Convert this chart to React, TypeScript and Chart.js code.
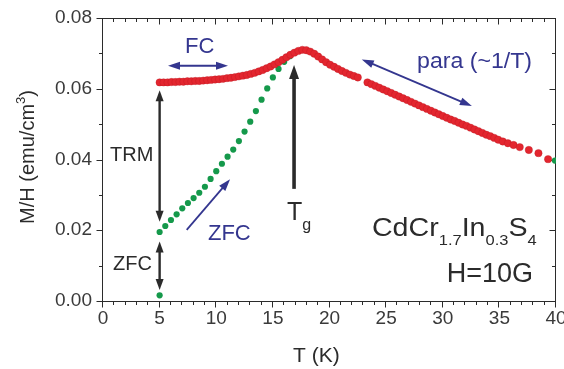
import { useEffect, useRef } from 'react';
import { Chart, registerables } from 'chart.js';

Chart.register(...registerables);

// Field-cooled M/H (red), including the paramagnetic tail above Tg
const fcTemp = [
  5.0, 5.35, 5.7, 6.05, 6.4, 6.75, 7.1, 7.45, 7.8, 8.15, 8.5, 8.85, 9.2, 9.55, 9.9,
  10.25, 10.6, 10.95, 11.3, 11.65, 12.0, 12.35, 12.7, 13.05, 13.4, 13.75, 14.1, 14.45,
  14.8, 15.15, 15.5, 15.85, 16.2, 16.55, 16.9, 17.25, 17.6, 17.95, 18.3, 18.65, 19.0,
  19.35, 19.7, 20.05, 20.4, 20.75, 21.1, 21.45, 21.8, 22.15, 22.5,
  23.35, 23.7, 24.05, 24.4, 24.75, 25.1, 25.45, 25.8, 26.15, 26.5, 26.85, 27.2, 27.55,
  27.9, 28.25, 28.6, 28.95, 29.3, 29.65, 30.0, 30.35, 30.7, 31.05, 31.4, 31.75, 32.1,
  32.45, 32.8, 33.15, 33.5, 33.85, 34.2, 34.55, 34.9, 35.3, 35.75, 36.25, 36.8, 37.6,
  38.45, 39.3,
];
const fcMH = [
  0.0618, 0.0618, 0.0618, 0.0619, 0.0619, 0.062, 0.062, 0.0621, 0.0621, 0.0622, 0.0622,
  0.0623, 0.0624, 0.0625, 0.0626, 0.0627, 0.0628, 0.063, 0.0631, 0.0633, 0.0635, 0.0637,
  0.0639, 0.0642, 0.0645, 0.0649, 0.0653, 0.0658, 0.0663, 0.0669, 0.0675, 0.0682, 0.0689,
  0.0696, 0.0702, 0.0707, 0.071, 0.0709, 0.0705, 0.0699, 0.0691, 0.0683, 0.0675, 0.0668,
  0.0662, 0.0656, 0.065, 0.0645, 0.064, 0.0636, 0.0632,
  0.0618, 0.0613, 0.0608, 0.0603, 0.0598, 0.0593, 0.0588, 0.0583, 0.0578, 0.0573, 0.0568,
  0.0563, 0.0558, 0.0553, 0.0548, 0.0543, 0.0538, 0.0533, 0.0528, 0.0523, 0.0518, 0.0513,
  0.0509, 0.0504, 0.0499, 0.0495, 0.049, 0.0485, 0.048, 0.0475, 0.047, 0.0466, 0.0461,
  0.0456, 0.0451, 0.0446, 0.0441, 0.0435, 0.0427, 0.0418, 0.0401,
];

// Zero-field-cooled M/H (green)
const zfcTemp = [
  5.0, 5.0, 5.5, 6.0, 6.5, 7.0, 7.5, 8.0, 8.5, 9.0, 9.5, 10.0, 10.5, 11.0, 11.5, 12.0,
  12.5, 13.0, 13.5, 14.0, 14.5, 15.0, 15.5, 16.0, 16.5, 39.9,
];
const zfcMH = [
  0.0016, 0.0195, 0.0212, 0.0229, 0.0245, 0.0262, 0.0277, 0.0291, 0.0306, 0.0323, 0.0345,
  0.0367, 0.0388, 0.0408, 0.0428, 0.0452, 0.0479, 0.0507, 0.0537, 0.0569, 0.0601, 0.0632,
  0.0656, 0.0676, 0.0692, 0.0397,
];

const xRange = [0, 40];
const yRange = [0, 0.08];
const xMajorStep = 5;
const xMinorStep = 1;
const yMajorStep = 0.02;
const yMinorStep = 0.01;

const FONT = "'Liberation Sans', Arial, Helvetica, sans-serif";
const INK = '#2b2b2b';
const LABEL = '#3a3a3a';
const BLUE = '#34368f';
const RED = '#e3262f';
const RED_EDGE = 'rgba(185,20,30,0.55)';
const GREEN = '#15994b';

type Run = { t: string; size: number; dy?: number };

// Draws a row of text pieces (with sub/superscripts); sx stretches horizontally.
function drawRuns(
  ctx: CanvasRenderingContext2D, runs: Run[], x: number, y: number, color: string,
  align: 'left' | 'right' = 'left', sx = 1,
) {
  ctx.save();
  ctx.fillStyle = color;
  ctx.textBaseline = 'alphabetic';
  ctx.textAlign = 'left';
  let total = 0;
  const widths = runs.map((r) => {
    ctx.font = `${r.size}px ${FONT}`;
    const w = ctx.measureText(r.t).width * sx;
    total += w;
    return w;
  });
  let cx = align === 'right' ? x - total : x;
  runs.forEach((r, i) => {
    ctx.font = `${r.size}px ${FONT}`;
    ctx.save();
    ctx.translate(cx, y + (r.dy || 0));
    ctx.scale(sx, 1);
    ctx.fillText(r.t, 0, 0);
    ctx.restore();
    cx += widths[i];
  });
  ctx.restore();
}

function head(ctx: CanvasRenderingContext2D, x: number, y: number, ang: number, len: number, wid: number) {
  ctx.save();
  ctx.translate(x, y);
  ctx.rotate(ang);
  ctx.beginPath();
  ctx.moveTo(0, 0);
  ctx.lineTo(-len, wid / 2);
  ctx.lineTo(-len, -wid / 2);
  ctx.closePath();
  ctx.fill();
  ctx.restore();
}

function arrow(
  ctx: CanvasRenderingContext2D,
  x1: number, y1: number, x2: number, y2: number,
  color: string, width: number, len: number, wid: number, both: boolean,
) {
  const ang = Math.atan2(y2 - y1, x2 - x1);
  const c = Math.cos(ang);
  const s = Math.sin(ang);
  ctx.save();
  ctx.strokeStyle = color;
  ctx.fillStyle = color;
  ctx.lineWidth = width;
  ctx.beginPath();
  const sx = both ? x1 + c * len * 0.7 : x1;
  const sy = both ? y1 + s * len * 0.7 : y1;
  ctx.moveTo(sx, sy);
  ctx.lineTo(x2 - c * len * 0.7, y2 - s * len * 0.7);
  ctx.stroke();
  head(ctx, x2, y2, ang, len, wid);
  if (both) head(ctx, x1, y1, ang + Math.PI, len, wid);
  ctx.restore();
}

const framePlugin = {
  id: 'frameAndTicks',
  beforeDatasetsDraw(chart: any) {
    const { ctx, chartArea: a, scales } = chart;
    const xs = scales.x;
    const ys = scales.y;
    const L = Math.round(a.left) - 0.5;
    const R = Math.round(a.right) - 0.5;
    const T = Math.round(a.top) + 0.5;
    const B = Math.round(a.bottom) + 0.5;
    ctx.save();
    ctx.strokeStyle = INK;
    ctx.lineWidth = 1;
    ctx.strokeRect(L, T, R - L, B - T);
    ctx.beginPath();
    const nx = Math.round((xRange[1] - xRange[0]) / xMinorStep);
    for (let i = 0; i <= nx; i++) {
      const v = xRange[0] + i * xMinorStep;
      const major = Math.abs(v / xMajorStep - Math.round(v / xMajorStep)) < 1e-6;
      const p = Math.round(xs.getPixelForValue(v)) - 0.5;
      const len = major ? 6 : 3.5;
      ctx.moveTo(p, B);
      ctx.lineTo(p, B + len);
      ctx.moveTo(p, T);
      ctx.lineTo(p, T + len);
    }
    const ny = Math.round((yRange[1] - yRange[0]) / yMinorStep);
    for (let i = 0; i <= ny; i++) {
      const v = yRange[0] + i * yMinorStep;
      const major = Math.abs(v / yMajorStep - Math.round(v / yMajorStep)) < 1e-6;
      const p = Math.round(ys.getPixelForValue(v)) + 0.5;
      const len = major ? 6 : 3.5;
      ctx.moveTo(L, p);
      ctx.lineTo(L - len, p);
      ctx.moveTo(R, p);
      ctx.lineTo(R - len, p);
    }
    ctx.stroke();
    ctx.restore();
  },
  afterDatasetsDraw(chart: any) {
    const { ctx, scales } = chart;
    const px = (t: number) => scales.x.getPixelForValue(t);
    const py = (m: number) => scales.y.getPixelForValue(m);

    // black guide arrows
    arrow(ctx, px(5), py(0.0596), px(5), py(0.0224), INK, 2.4, 11, 8, true);
    arrow(ctx, px(5), py(0.0168), px(5), py(0.0031), INK, 2.4, 11, 8, true);
    arrow(ctx, px(16.87), py(0.0317), px(16.87), py(0.0667), INK, 3.6, 14, 10, false);

    // blue direction arrows
    arrow(ctx, px(5.74), py(0.0665), px(11.04), py(0.0665), BLUE, 1.8, 12, 8, true);
    arrow(ctx, px(22.85), py(0.0683), px(32.57), py(0.0551), BLUE, 1.8, 12, 8, true);
    arrow(ctx, px(7.39), py(0.0201), px(11.22), py(0.0344), BLUE, 1.8, 12, 8, false);

    drawRuns(ctx, [{ t: 'FC', size: 22 }], px(7.24), py(0.0701), BLUE);
    drawRuns(ctx, [{ t: 'ZFC', size: 22 }], px(9.27), py(0.0172), BLUE);
    drawRuns(ctx, [{ t: 'para (~1/T)', size: 22 }], px(27.73), py(0.0659), BLUE, 'left', 1.05);

    drawRuns(ctx, [{ t: 'TRM', size: 20 }], px(0.62), py(0.0396), INK);
    drawRuns(ctx, [{ t: 'ZFC', size: 20 }], px(0.88), py(0.0088), INK);
    drawRuns(ctx, [{ t: 'T', size: 25 }, { t: 'g', size: 16, dy: 10 }], px(16.25), py(0.0229), INK);

    drawRuns(
      ctx,
      [
        { t: 'CdCr', size: 26 },
        { t: '1.7', size: 15, dy: 9 },
        { t: 'In', size: 26 },
        { t: '0.3', size: 15, dy: 9 },
        { t: 'S', size: 26 },
        { t: '4', size: 15, dy: 9 },
      ],
      px(23.75), py(0.0184), INK, 'left', 1.1,
    );
    drawRuns(ctx, [{ t: 'H=10G', size: 27 }], px(37.97), py(0.0054), INK, 'right');

    // axis titles
    const a = chart.chartArea;
    drawRuns(ctx, [{ t: 'T (K)', size: 21 }], 293, a.bottom + 61, INK);
    ctx.save();
    ctx.translate(34, 157);
    ctx.rotate(-Math.PI / 2);
    ctx.font = `20px ${FONT}`;
    const w1 = ctx.measureText('M/H (emu/cm').width;
    ctx.font = `13px ${FONT}`;
    const w2 = ctx.measureText('3').width;
    ctx.font = `20px ${FONT}`;
    const w3 = ctx.measureText(')').width;
    const x0 = -(w1 + w2 + w3) / 2;
    drawRuns(ctx, [{ t: 'M/H (emu/cm', size: 20 }, { t: '3', size: 13, dy: -9 }, { t: ')', size: 20 }], x0, 0, INK);
    ctx.restore();
  },
};

export default function App() {
  const ref = useRef<HTMLCanvasElement | null>(null);

  useEffect(() => {
    if (!ref.current) return;
    const chart = new Chart(ref.current, {
      type: 'scatter',
      data: {
        datasets: [
          {
            label: 'FC',
            data: fcTemp.map((t, i) => ({ x: t, y: fcMH[i] })),
            backgroundColor: RED,
            borderColor: RED_EDGE,
            borderWidth: 0.6,
            pointRadius: 3.7,
            showLine: false,
          },
          {
            label: 'ZFC',
            data: zfcTemp.map((t, i) => ({ x: t, y: zfcMH[i] })),
            backgroundColor: GREEN,
            borderWidth: 0,
            pointRadius: 3.1,
            showLine: false,
          },
        ],
      },
      options: {
        animation: false,
        responsive: true,
        maintainAspectRatio: false,
        layout: { padding: { top: 18, right: 8, left: 0, bottom: 0 } },
        plugins: { legend: { display: false }, tooltip: { enabled: false } },
        scales: {
          x: {
            type: 'linear',
            min: xRange[0],
            max: xRange[1],
            grid: { display: false, drawTicks: false },
            border: { display: false },
            ticks: {
              stepSize: xMajorStep,
              autoSkip: false,
              maxRotation: 0,
              padding: 6,
              color: LABEL,
              font: { family: FONT, size: 19 },
            },
            afterFit: (s: any) => {
              s.height = 68;
              s.paddingLeft = 0;
              s.paddingRight = 0;
            },
          },
          y: {
            type: 'linear',
            min: yRange[0],
            max: yRange[1],
            grid: { display: false, drawTicks: false },
            border: { display: false },
            ticks: {
              stepSize: yMajorStep,
              padding: 11,
              color: LABEL,
              font: { family: FONT, size: 19 },
              callback: (v: any) => Number(v).toFixed(2),
            },
            afterFit: (s: any) => {
              s.width = 103;
              s.paddingTop = 0;
              s.paddingBottom = 0;
            },
          },
        },
      },
      plugins: [framePlugin],
    });
    return () => chart.destroy();
  }, []);

  return (
    <div style={{ position: 'absolute', left: 0, top: 0, width: 564, height: 369, background: '#fff' }}>
      <canvas ref={ref} />
    </div>
  );
}
